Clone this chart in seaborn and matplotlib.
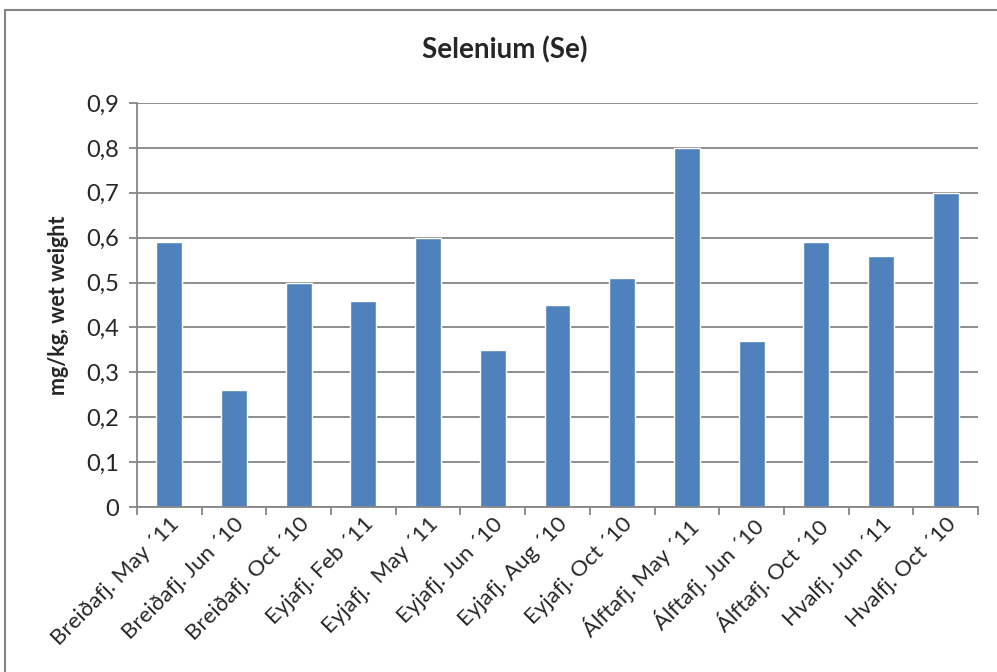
import matplotlib
matplotlib.use("Agg")
import matplotlib.pyplot as plt
from matplotlib.lines import Line2D
from matplotlib.ticker import FixedLocator, FuncFormatter
import seaborn as sns
import pandas as pd

samples = [
    "Breiðafj. May ´11", "Breiðafj. Jun ´10", "Breiðafj. Oct ´10",
    "Eyjafj. Feb ´11", "Eyjafj.  May ´11", "Eyjafj. Jun ´10",
    "Eyjafj. Aug ´10", "Eyjafj. Oct ´10", "Álftafj. May ´11",
    "Álftafj. Jun ´10", "Álftafj. Oct ´10", "Hvalfj. Jun ´11",
    "Hvalfj. Oct ´10",
]
selenium = [0.59, 0.26, 0.50, 0.46, 0.60, 0.35, 0.45, 0.51, 0.80, 0.37, 0.59, 0.56, 0.70]
y_ticks = [0, 0.1, 0.2, 0.3, 0.4, 0.5, 0.6, 0.7, 0.8, 0.9]

df = pd.DataFrame({"sample": samples, "se": selenium})

sns.set_theme(style="white")
plt.rcParams["font.family"] = ["Lato", "DejaVu Sans"]

grey = "#868686"
fig = plt.figure(figsize=(9.97, 6.72), dpi=100)
ax = fig.add_axes([137 / 997, 1 - 507 / 672, (978 - 137) / 997, (507 - 103) / 672])

ax.set_axisbelow(True)
ax.yaxis.grid(True, color=grey, linewidth=1.3)
sns.barplot(data=df, x="sample", y="se", color="#4F81BD", width=0.4,
            saturation=1, ax=ax)

ax.set_ylim(0, 0.9)
ax.set_xlim(-0.5, len(samples) - 0.5)
ax.yaxis.set_major_locator(FixedLocator(y_ticks))
ax.yaxis.set_major_formatter(FuncFormatter(
    lambda v, p: "0" if abs(v) < 1e-9 else f"{v:.1f}".replace(".", ",")))

for side in ("top", "right"):
    ax.spines[side].set_visible(False)
for side in ("left", "bottom"):
    ax.spines[side].set_color(grey)
    ax.spines[side].set_linewidth(1.3)

ax.tick_params(axis="y", which="major", direction="out", length=6, width=1.3,
               color=grey, labelsize=17, pad=7, left=True)
ax.tick_params(axis="x", which="major", length=0, labelsize=16, pad=5)
ax.set_xticks([i - 0.5 for i in range(len(samples) + 1)], minor=True)
ax.tick_params(axis="x", which="minor", direction="out", length=6, width=1.3,
               color=grey, bottom=True)
plt.setp(ax.get_xticklabels(), rotation=45, ha="right", rotation_mode="anchor")

ax.set_xlabel("")
ax.set_ylabel("mg/kg, wet weight", fontsize=15.5, fontweight="bold", labelpad=12)
fig.text(0.506, 1 - 50 / 672, "Selenium (Se)", ha="center", va="center",
         fontsize=20, fontweight="bold")

# chart frame
fig.add_artist(Line2D([5 / 997, 1.0], [1 - 10 / 672] * 2, color=grey, linewidth=1.5,
                      transform=fig.transFigure))
fig.add_artist(Line2D([5 / 997] * 2, [0.0, 1 - 10 / 672], color=grey, linewidth=1.5,
                      transform=fig.transFigure))

fig.savefig("out.png", dpi=100, facecolor="white")
